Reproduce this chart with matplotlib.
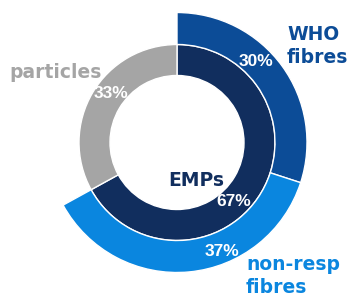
import matplotlib.pyplot as plt

# Daten: innerer Ring (EMPs vs. particles), aeusserer Ring (Aufteilung der EMPs)
inner_labels = ["EMPs", "particles"]
inner_values = [67, 33]
outer_labels = ["WHO fibres", "non-resp fibres", ""]
outer_values = [30, 37, 33]

navy = "#112e5e"
who_blue = "#0c4c97"
bright_blue = "#0a86df"
grey = "#a5a5a5"

fig = plt.figure(figsize=(3.5, 2.97), dpi=100)
ax = fig.add_axes([0, 0, 1, 1])

# innerer Ring
ax.pie(inner_values, radius=0.98, startangle=90, counterclock=False,
       colors=[navy, grey],
       wedgeprops=dict(width=0.31, edgecolor="white", linewidth=1))
# aeusserer Ring, der particles-Teil bleibt leer
wedges, _ = ax.pie(outer_values, radius=1.30, startangle=90, counterclock=False,
                   colors=[who_blue, bright_blue, "white"],
                   wedgeprops=dict(width=0.32, edgecolor="white", linewidth=1))
wedges[2].set_visible(False)

pct = dict(color="white", fontweight="bold", fontsize=12.5, family="Liberation Sans",
           ha="center", va="center")
ax.text(0.79, 0.805, f"{outer_values[0]}%", **pct)
ax.text(0.45, -1.085, f"{outer_values[1]}%", **pct)
ax.text(0.57, -0.595, f"{inner_values[0]}%", **pct)
ax.text(-0.66, 0.495, f"{inner_values[1]}%", **pct)

lab = dict(fontweight="bold", fontsize=13.5, family="DejaVu Sans")
ax.text(0.19, -0.385, inner_labels[0], color=navy, ha="center", va="center", **lab)
ax.text(-1.21, 0.695, inner_labels[1], color=grey, ha="center", va="center", **lab)
ax.text(1.10, 0.965, "WHO\nfibres", color=who_blue, ha="left", va="center",
        linespacing=1.25, **lab)
ax.text(0.69, -1.335, "non-resp\nfibres", color=bright_blue, ha="left", va="center",
        linespacing=1.25, **lab)

ax.set_xlim(-1.77, 1.73)
ax.set_ylim(-1.545, 1.425)
ax.set_aspect("equal")
ax.axis("off")

fig.savefig("out.png", dpi=100)
